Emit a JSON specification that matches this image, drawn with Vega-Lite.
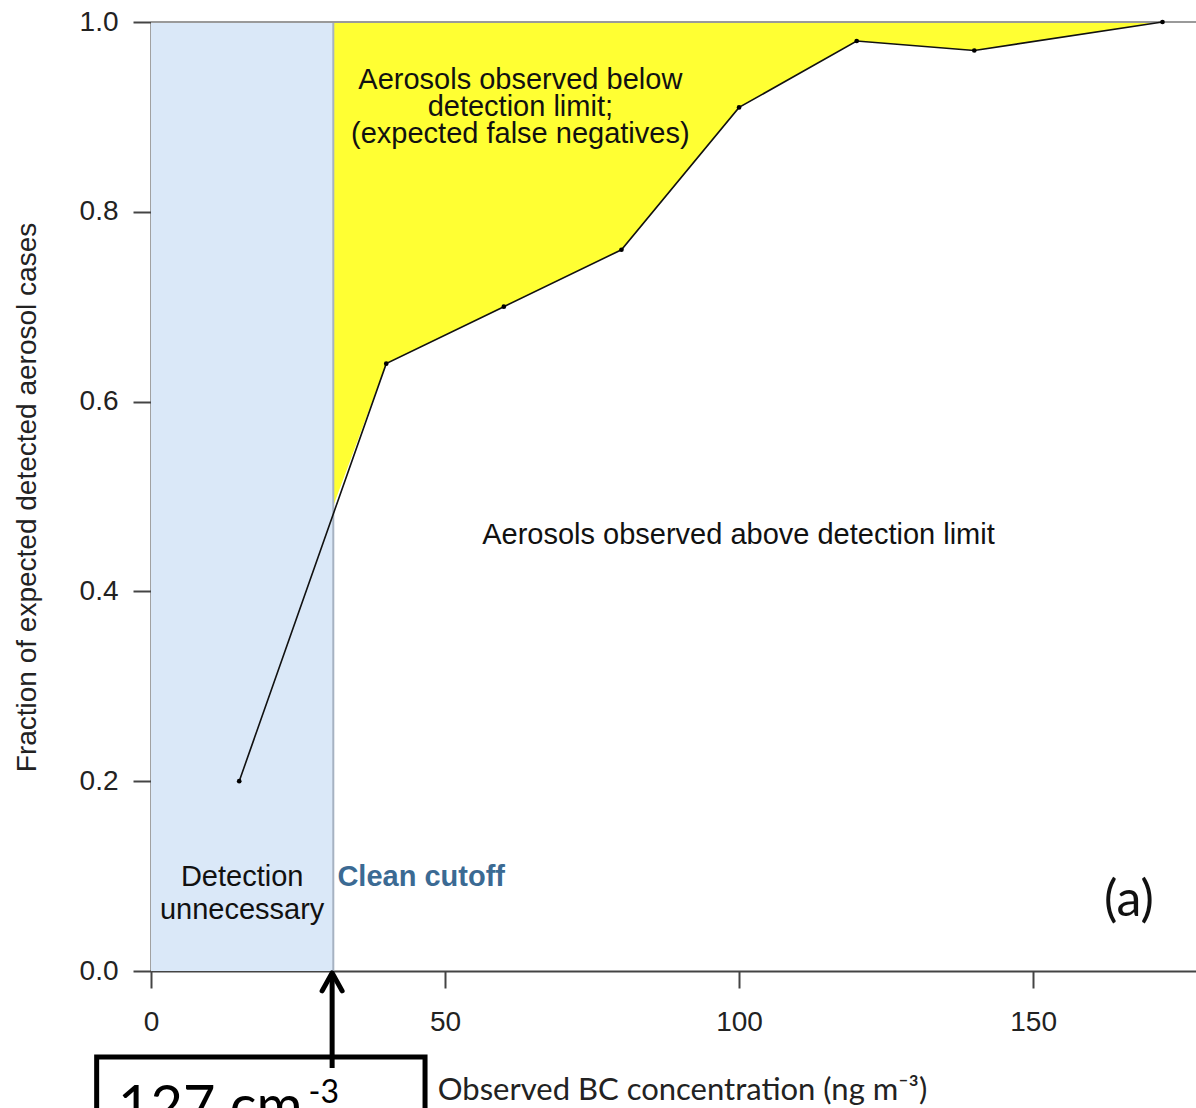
{
  "$schema": "https://vega.github.io/schema/vega-lite/v6.json",
  "width": 1045,
  "height": 949,
  "autosize": {"type": "none"},
  "padding": {"left": 151, "top": 22, "right": 0, "bottom": 137},
  "background": "white",
  "config": {"view": {"stroke": null}, "font": "Liberation Sans"},
  "datasets": {
    "clean": [{"x": 0, "x2": 31, "y": 0, "y2": 1}],
    "yellow": [
      {"x": 31, "y": 0.49, "y2": 1},
      {"x": 40, "y": 0.64, "y2": 1},
      {"x": 60, "y": 0.70, "y2": 1},
      {"x": 80, "y": 0.76, "y2": 1},
      {"x": 100, "y": 0.91, "y2": 1},
      {"x": 120, "y": 0.98, "y2": 1},
      {"x": 140, "y": 0.97, "y2": 1},
      {"x": 172, "y": 1.0, "y2": 1}
    ],
    "obs": [
      {"x": 15, "y": 0.2},
      {"x": 40, "y": 0.64},
      {"x": 60, "y": 0.70},
      {"x": 80, "y": 0.76},
      {"x": 100, "y": 0.91},
      {"x": 120, "y": 0.98},
      {"x": 140, "y": 0.97},
      {"x": 172, "y": 1.0}
    ],
    "cutoff": [{"x": 31, "y": 0, "y2": 1}],
    "top": [{"x": 0, "x2": 177.7, "y": 1}],
    "notes": [
      {"t": "Aerosols observed below", "x": 62.8, "y": 0.939},
      {"t": "detection limit;", "x": 62.8, "y": 0.910},
      {"t": "(expected false negatives)", "x": 62.8, "y": 0.882},
      {"t": "Aerosols observed above detection limit", "x": 99.9, "y": 0.459},
      {"t": "Detection", "x": 15.5, "y": 0.099},
      {"t": "unnecessary", "x": 15.5, "y": 0.064}
    ],
    "cutlabel": [{"t": "Clean cutoff", "x": 31.7, "y": 0.099}],
    "panel": [{"t": "(a)", "x": 166.3, "y": 0.074}],
    "box": [{"x": -9.24, "x2": 46.6, "y": -0.0906, "y2": -0.3}],
    "boxtext": [{"t": "127 cm", "x": -5.6, "y": -0.162}],
    "boxsup": [{"t": "-3", "x": 26.8, "y": -0.139}],
    "stem": [{"x": 30.8, "y": -0.1022, "y2": -0.004}],
    "head": [{"x": 30.8, "y": -0.002}]
  },
  "encoding": {
    "x": {
      "field": "x",
      "type": "quantitative",
      "scale": {"domain": [0, 177.7], "nice": false, "zero": false},
      "axis": {
        "values": [0, 50, 100, 150],
        "title": "Observed BC concentration (ng m⁻³)",
        "grid": false,
        "domainColor": "#444",
        "domainWidth": 2,
        "tickColor": "#444",
        "tickWidth": 2,
        "tickSize": 17,
        "labelFontSize": 28,
        "labelFont": "Liberation Sans",
        "labelColor": "#222",
        "labelPadding": 20,
        "labelFlush": false,
        "titleFont": "Lato",
        "titleFontSize": 31,
        "titleFontWeight": "normal",
        "titleColor": "#222",
        "titleX": 531,
        "titleY": 119,
        "titleAlign": "center",
        "titleBaseline": "middle"
      }
    },
    "y": {
      "field": "y",
      "type": "quantitative",
      "scale": {"domain": [0, 1], "nice": false, "zero": false},
      "axis": {
        "values": [0, 0.2, 0.4, 0.6, 0.8, 1],
        "format": ".1f",
        "grid": false,
        "domainColor": "#444",
        "domainWidth": 2,
        "tickColor": "#444",
        "tickWidth": 2,
        "tickSize": 18,
        "labelFontSize": 28,
        "labelFont": "Liberation Sans",
        "labelColor": "#222",
        "labelPadding": 15,
        "labelFlush": false,
        "title": "Fraction of expected detected aerosol cases",
        "titleFont": "Liberation Sans",
        "titleFontSize": 28,
        "titleFontWeight": "normal",
        "titleColor": "#222",
        "titleX": -124,
        "titleY": 475,
        "titleAngle": -90,
        "titleAlign": "center",
        "titleBaseline": "middle"
      }
    }
  },
  "layer": [
    {
      "data": {"name": "clean"},
      "mark": {"type": "rect", "color": "#dae8f8"},
      "encoding": {"x2": {"field": "x2"}, "y2": {"field": "y2"}}
    },
    {
      "data": {"name": "yellow"},
      "mark": {"type": "area", "color": "#ffff33", "opacity": 1},
      "encoding": {"y2": {"field": "y2"}}
    },
    {
      "data": {"name": "cutoff"},
      "mark": {"type": "rule", "color": "#a6b2c2", "strokeWidth": 2},
      "encoding": {"y2": {"field": "y2"}}
    },
    {
      "data": {"name": "top"},
      "mark": {"type": "rule", "color": "#9a9a9a", "strokeWidth": 2},
      "encoding": {"x2": {"field": "x2"}}
    },
    {
      "data": {"name": "obs"},
      "mark": {"type": "line", "color": "#111", "strokeWidth": 1.6},
      "encoding": {}
    },
    {
      "data": {"name": "obs"},
      "mark": {"type": "point", "filled": true, "color": "#000", "size": 22, "opacity": 1},
      "encoding": {}
    },
    {
      "data": {"name": "notes"},
      "mark": {"type": "text", "fontSize": 29, "font": "Liberation Sans", "align": "center", "baseline": "middle", "color": "#111"},
      "encoding": {"text": {"field": "t"}}
    },
    {
      "data": {"name": "cutlabel"},
      "mark": {"type": "text", "fontSize": 29, "font": "Liberation Sans", "fontWeight": "bold", "align": "left", "baseline": "middle", "color": "#3b6a93"},
      "encoding": {"text": {"field": "t"}}
    },
    {
      "data": {"name": "panel"},
      "mark": {"type": "text", "fontSize": 50, "font": "Lato", "align": "center", "baseline": "middle", "color": "#111"},
      "encoding": {"text": {"field": "t"}}
    },
    {
      "data": {"name": "box"},
      "mark": {"type": "rect", "fill": "white", "fillOpacity": 0, "stroke": "#000", "strokeWidth": 5},
      "encoding": {"x2": {"field": "x2"}, "y2": {"field": "y2"}}
    },
    {
      "data": {"name": "boxtext"},
      "mark": {"type": "text", "fontSize": 56, "font": "Lato", "align": "left", "baseline": "alphabetic", "color": "#000"},
      "encoding": {"text": {"field": "t"}}
    },
    {
      "data": {"name": "boxsup"},
      "mark": {"type": "text", "fontSize": 32, "font": "Lato", "align": "left", "baseline": "alphabetic", "color": "#000"},
      "encoding": {"text": {"field": "t"}}
    },
    {
      "data": {"name": "stem"},
      "mark": {"type": "rule", "color": "#000", "strokeWidth": 5},
      "encoding": {"y2": {"field": "y2"}}
    },
    {
      "data": {"name": "head"},
      "mark": {"type": "point", "shape": "M-1,1.8L0,0L1,1.8", "filled": false, "stroke": "#000", "strokeWidth": 5, "strokeCap": "round", "strokeJoin": "round", "size": 400, "opacity": 1},
      "encoding": {}
    }
  ]
}
